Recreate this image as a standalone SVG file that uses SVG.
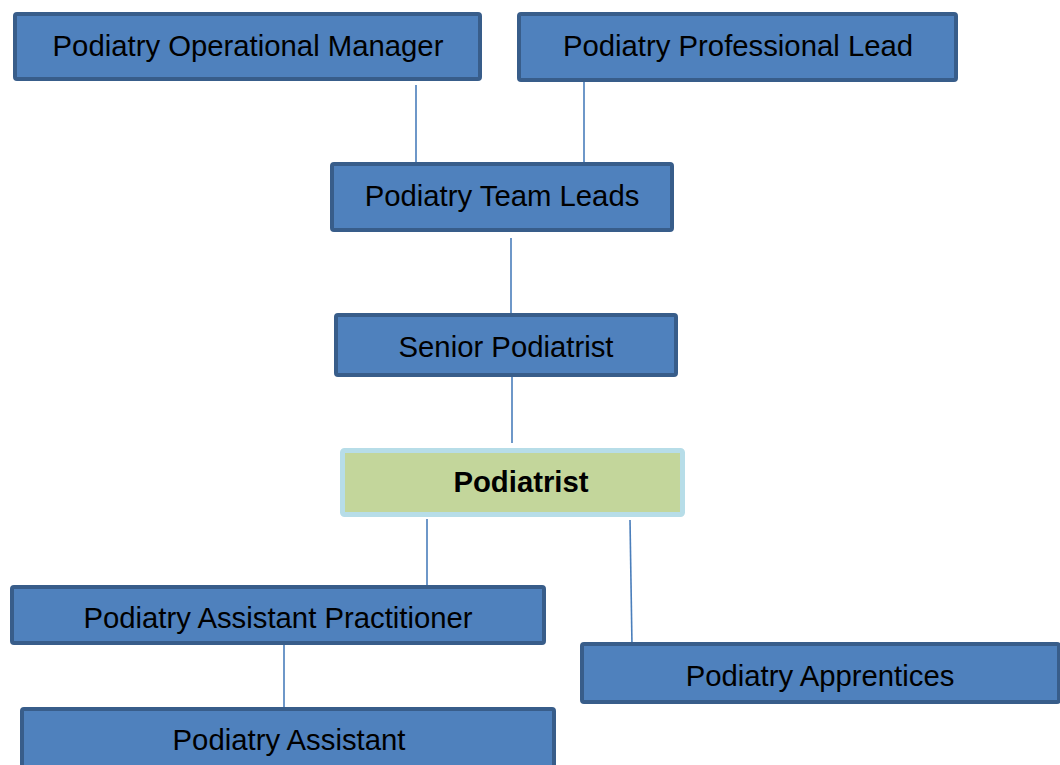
<svg xmlns="http://www.w3.org/2000/svg" width="1060" height="765" viewBox="0 0 1060 765">
<style>
.box{fill:#4f81bd;stroke:#385d8a;stroke-width:4}
.hl{fill:#c3d69b;stroke:#b7dde8;stroke-width:5}
.t{font-family:"Liberation Sans",Arial,sans-serif;font-size:29.3px;fill:#000;text-anchor:middle}
.b{font-weight:bold}
.c{stroke:#4a7ebb;stroke-width:1.6;fill:none}
</style>
<rect width="1060" height="765" fill="#fff"/>
<g id="connectors">
<line class="c" x1="416" y1="85" x2="416" y2="165"/>
<line class="c" x1="584" y1="82" x2="584" y2="163"/>
<line class="c" x1="511" y1="238" x2="511" y2="315"/>
<line class="c" x1="512" y1="377" x2="512" y2="443"/>
<line class="c" x1="427" y1="519" x2="427" y2="586"/>
<line class="c" x1="630" y1="520" x2="632" y2="646"/>
<line class="c" x1="284" y1="643" x2="284" y2="708"/>
</g>
<g id="op-manager">
<rect class="box" x="15" y="14" width="465" height="65" rx="2"/>
<text class="t" x="248" y="56">Podiatry Operational Manager</text>
</g>
<g id="prof-lead">
<rect class="box" x="519" y="14" width="437" height="66" rx="2"/>
<text class="t" x="738" y="56">Podiatry Professional Lead</text>
</g>
<g id="team-leads">
<rect class="box" x="332" y="164" width="340" height="66" rx="2"/>
<text class="t" x="502" y="206">Podiatry Team Leads</text>
</g>
<g id="senior">
<rect class="box" x="336" y="315" width="340" height="60" rx="2"/>
<text class="t" x="506" y="357">Senior Podiatrist</text>
</g>
<g id="podiatrist">
<rect class="hl" x="342.5" y="450.5" width="340" height="64" rx="2"/>
<text class="t b" x="521" y="492">Podiatrist</text>
</g>
<g id="assistant-practitioner">
<rect class="box" x="12" y="587" width="532" height="56" rx="2"/>
<text class="t" x="278" y="628">Podiatry Assistant Practitioner</text>
</g>
<g id="apprentices">
<rect class="box" x="582" y="644" width="477" height="58" rx="2"/>
<text class="t" x="820" y="686">Podiatry Apprentices</text>
</g>
<g id="assistant">
<rect class="box" x="22" y="709" width="532" height="70" rx="2"/>
<text class="t" x="289" y="750">Podiatry Assistant</text>
</g>
</svg>
